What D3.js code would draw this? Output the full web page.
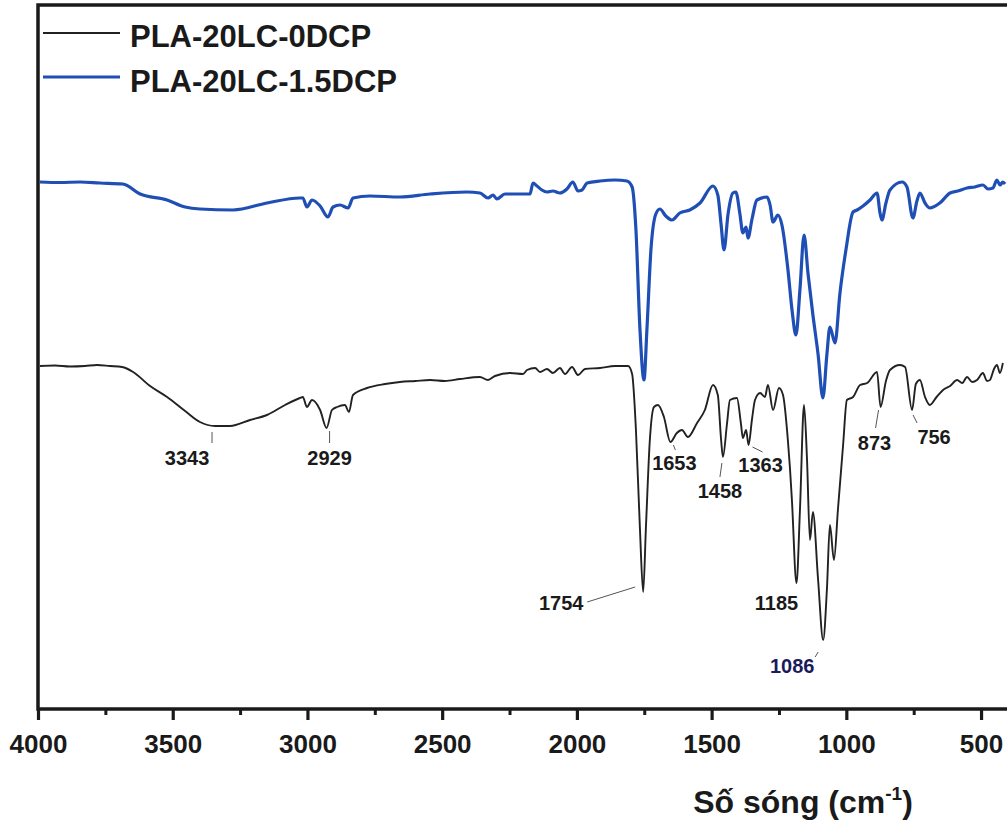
<!DOCTYPE html>
<html>
<head>
<meta charset="utf-8">
<script src="https://cdn.jsdelivr.net/npm/d3@7/dist/d3.min.js"></script>
<style>
  html, body { margin: 0; padding: 0; background: #fff; }
  svg { display: block; font-family: "Liberation Sans", Arial, sans-serif; }
</style>
</head>
<body>
<svg id="chart" width="1007" height="825"></svg>
<script>
// FTIR spectra: [wavenumber (cm-1), transmittance (a.u., offset)]
const spectrum0DCP = [
  [3993,34.3],[3937,34.35],[3881,34.25],[3826,34.3],[3781,34.4],[3733,34.3],[3688,34.2],
  [3647,33.7],[3584,32.3],[3521,31.2],[3454,29.8],[3399,28.7],[3343,28.3],[3287,28.3],
  [3213,28.9],[3150,29.4],[3083,30.4],[3028,31.1],[3017,31.2],[3002,30.2],[2983,30.9],
  [2953,29.9],[2929,28.1],[2909,29.9],[2890,30.2],[2861,30.4],[2846,29.7],[2831,31.4],
  [2779,32.1],[2712,32.5],[2657,32.7],[2600,32.8],[2545,32.9],[2490,32.8],[2434,33.0],
  [2360,33.2],[2330,32.9],[2304,33.3],[2248,33.6],[2200,33.5],[2185,33.9],[2155,34.1],
  [2137,33.7],[2111,34.0],[2089,33.6],[2063,34.1],[2044,33.5],[2018,34.2],[1996,33.4],
  [1970,34.0],[1914,34.1],[1859,34.3],[1810,34.3],[1795,33.5],[1781,28.0],[1766,18.0],
  [1754,11.7],[1744,18.0],[1729,27.0],[1714,30.2],[1699,30.4],[1677,29.2],[1653,26.7],
  [1629,27.6],[1610,27.9],[1588,27.2],[1554,28.6],[1525,29.9],[1495,32.4],[1477,31.4],
  [1465,27.0],[1458,25.2],[1443,28.5],[1432,30.9],[1406,31.1],[1391,28.5],[1384,27.1],
  [1372,27.9],[1363,26.4],[1350,29.0],[1339,30.9],[1320,31.6],[1302,31.2],[1291,32.4],
  [1272,29.9],[1250,32.1],[1235,31.4],[1217,26.9],[1209,24.0],[1202,20.9],[1185,12.6],
  [1172,20.0],[1157,30.4],[1146,25.0],[1135,16.9],[1124,19.7],[1105,13.0],[1086,6.9],
  [1072,12.0],[1061,18.4],[1046,14.9],[1031,20.0],[1012,26.4],[998,30.9],[975,31.2],
  [949,32.4],[923,32.6],[886,33.7],[873,30.2],[853,32.8],[838,33.9],[801,34.4],
  [782,34.2],[756,29.9],[742,32.5],[727,32.9],[708,31.2],[690,30.4],[665,31.2],
  [641,31.9],[615,32.3],[589,32.9],[570,32.6],[552,33.2],[533,32.7],[515,32.9],
  [493,33.6],[478,32.8],[467,32.9],[452,34.0],[441,34.4],[430,33.6],[419,34.6]
];

const spectrum15DCP = [
  [3993,52.7],[3918,52.65],[3844,52.7],[3770,52.6],[3685,52.5],[3621,51.5],[3521,50.9],
  [3454,50.2],[3399,50.0],[3276,49.9],[3150,50.6],[3028,51.1],[3017,51.1],[3002,50.2],
  [2983,50.9],[2953,50.3],[2924,49.2],[2905,50.2],[2879,50.4],[2849,50.1],[2831,51.1],
  [2768,51.3],[2657,51.2],[2545,51.5],[2408,51.7],[2360,51.6],[2330,51.1],[2311,51.4],
  [2297,51.0],[2267,51.5],[2174,51.5],[2163,52.6],[2148,52.3],[2130,51.9],[2111,51.7],
  [2089,51.8],[2063,51.6],[2037,52.0],[2015,52.7],[1996,51.8],[1981,51.9],[1962,52.6],
  [1914,52.8],[1859,52.9],[1814,52.8],[1795,52.2],[1781,48.0],[1766,38.0],[1751,32.9],
  [1740,38.0],[1725,46.0],[1707,49.5],[1692,50.0],[1670,49.3],[1647,48.9],[1618,49.6],
  [1581,49.9],[1543,50.6],[1495,52.3],[1477,51.4],[1465,48.5],[1454,45.9],[1439,49.5],
  [1421,51.6],[1410,51.7],[1395,49.5],[1384,47.6],[1372,48.2],[1365,47.1],[1350,49.0],
  [1332,50.9],[1294,51.2],[1283,50.4],[1272,48.7],[1254,49.4],[1239,48.4],[1217,44.0],
  [1202,40.0],[1187,37.4],[1172,42.0],[1157,47.4],[1142,43.5],[1124,39.4],[1105,35.5],
  [1087,31.1],[1072,35.5],[1061,38.2],[1042,36.6],[1024,41.5],[1001,46.0],[975,49.7],
  [960,49.9],[938,50.3],[912,50.9],[886,51.6],[875,49.6],[868,48.9],[853,50.6],
  [838,51.9],[793,52.7],[775,52.2],[753,49.1],[738,50.8],[727,51.6],[708,50.6],
  [690,50.1],[653,50.6],[615,51.6],[586,51.8],[552,52.1],[523,52.2],[493,52.4],
  [474,52.0],[456,52.1],[441,52.9],[430,52.4],[419,52.7],[411,52.5]
];

const seriesNames = ["PLA-20LC-0DCP", "PLA-20LC-1.5DCP"];
const seriesColors = ["#222222", "#1f4fb5"];

const majorTicks = [4000, 3500, 3000, 2500, 2000, 1500, 1000, 500];
const minorTicks = [3750, 3250, 2750, 2250, 1750, 1250, 750];

// Band assignments marked on the PLA-20LC-0DCP spectrum
const peakLabels = [3343, 2929, 1754, 1653, 1458, 1363, 1185, 1086, 873, 756];

// Leader line and text placement (pixels, relative to the band minimum)
const labelLayout = {
  3343: { line: [[-3, 6], [-3, 17]],   text: [-28, 39] },
  2929: { line: [[3, 3], [3, 15]],     text: [3, 37] },
  1754: { line: [[-8, -5], [-56, 10]], text: [-82, 18] },
  1653: { line: [[3, 3], [5, 8]],      text: [4, 28] },
  1458: { line: [[-1, 6], [-3, 20]],   text: [-3, 41] },
  1363: { line: [[4, 2], [14, 7]],     text: [12, 27] },
  1185: { line: null,                  text: [-20, 27] },
  1086: { line: [[-5, 12], [-8, 17]],  text: [-31, 33], color: "#1b1b5c" },
  873:  { line: [[-2, 3], [-5, 21]],   text: [-6, 43] },
  756:  { line: [[1, 5], [5, 13]],     text: [22, 34] }
};

const svg = d3.select("#chart");
const m = { left: 38, right: 1008, top: 5, bottom: 709 };

const x = d3.scaleLinear().domain([4000, 400]).range([m.left, m.right]);
const y = d3.scaleLinear().domain([0, 70.4]).range([m.bottom, m.top]);

const line = d3.line()
  .x(d => x(d[0]))
  .y(d => y(d[1]))
  .curve(d3.curveMonotoneX);

svg.append("defs").append("clipPath").attr("id", "plot-clip")
  .append("rect").attr("x", m.left).attr("y", m.top)
  .attr("width", m.right - m.left).attr("height", m.bottom - m.top);

const plot = svg.append("g").attr("clip-path", "url(#plot-clip)");

plot.append("path")
  .datum(spectrum15DCP)
  .attr("fill", "none")
  .attr("stroke", seriesColors[1])
  .attr("stroke-width", 3.2)
  .attr("stroke-linejoin", "round")
  .attr("d", line);

plot.append("path")
  .datum(spectrum0DCP)
  .attr("fill", "none")
  .attr("stroke", seriesColors[0])
  .attr("stroke-width", 1.9)
  .attr("stroke-linejoin", "round")
  .attr("d", line);

// Peak annotations
const valueAt = w => {
  const pt = spectrum0DCP.reduce((a, b) => Math.abs(b[0] - w) < Math.abs(a[0] - w) ? b : a);
  return pt[1];
};
const ann = svg.append("g");
peakLabels.forEach(w => {
  const px = x(w), py = y(valueAt(w));
  const lay = labelLayout[w];
  if (lay.line) {
    ann.append("line")
      .attr("x1", px + lay.line[0][0]).attr("y1", py + lay.line[0][1])
      .attr("x2", px + lay.line[1][0]).attr("y2", py + lay.line[1][1])
      .attr("stroke", "#555").attr("stroke-width", 1);
  }
  ann.append("text")
    .attr("x", px + lay.text[0]).attr("y", py + lay.text[1])
    .attr("text-anchor", "middle")
    .attr("font-size", 20).attr("font-weight", "bold")
    .attr("fill", lay.color || "#1a1a1a")
    .text(w);
});

// Frame
svg.append("rect")
  .attr("x", m.left).attr("y", m.top)
  .attr("width", m.right + 3 - m.left).attr("height", m.bottom - m.top)
  .attr("fill", "none").attr("stroke", "#1a1a1a").attr("stroke-width", 3.5);

// Bottom axis: major and minor ticks
const axisMajor = d3.axisBottom(x).tickValues(majorTicks)
  .tickSize(11).tickPadding(15).tickFormat(d3.format("d"));
const gMajor = svg.append("g").attr("transform", `translate(0,${m.bottom})`).call(axisMajor);
gMajor.select(".domain").remove();
gMajor.selectAll(".tick line").attr("stroke", "#1a1a1a").attr("stroke-width", 3.2);
gMajor.selectAll(".tick text")
  .attr("fill", "#1a1a1a")
  .attr("font-size", 26).attr("font-weight", "bold")
  .attr("font-family", "Liberation Sans, Arial, sans-serif");

const axisMinor = d3.axisBottom(x).tickValues(minorTicks).tickSize(6).tickFormat("");
const gMinor = svg.append("g").attr("transform", `translate(0,${m.bottom})`).call(axisMinor);
gMinor.select(".domain").remove();
gMinor.selectAll(".tick line").attr("stroke", "#1a1a1a").attr("stroke-width", 3);

// Axis title
const title = svg.append("text")
  .attr("x", 803).attr("y", 813)
  .attr("text-anchor", "middle")
  .attr("font-size", 32).attr("font-weight", "bold")
  .attr("fill", "#1a1a1a");
title.append("tspan").text("Số sóng (cm");
title.append("tspan").attr("font-size", 19).attr("dy", -13).text("-1");
title.append("tspan").attr("dy", 13).text(")");

// Legend
const legendY = [33, 77];
const legendTextY = [47, 92];
seriesNames.forEach((name, i) => {
  svg.append("line")
    .attr("x1", 43).attr("x2", 120)
    .attr("y1", legendY[i]).attr("y2", legendY[i])
    .attr("stroke", seriesColors[i])
    .attr("stroke-width", i === 0 ? 1.9 : 3.2);
  svg.append("text")
    .attr("x", 130).attr("y", legendTextY[i])
    .attr("font-size", 31).attr("font-weight", "bold")
    .attr("fill", "#1a1a1a")
    .text(name);
});
</script>
</body>
</html>
